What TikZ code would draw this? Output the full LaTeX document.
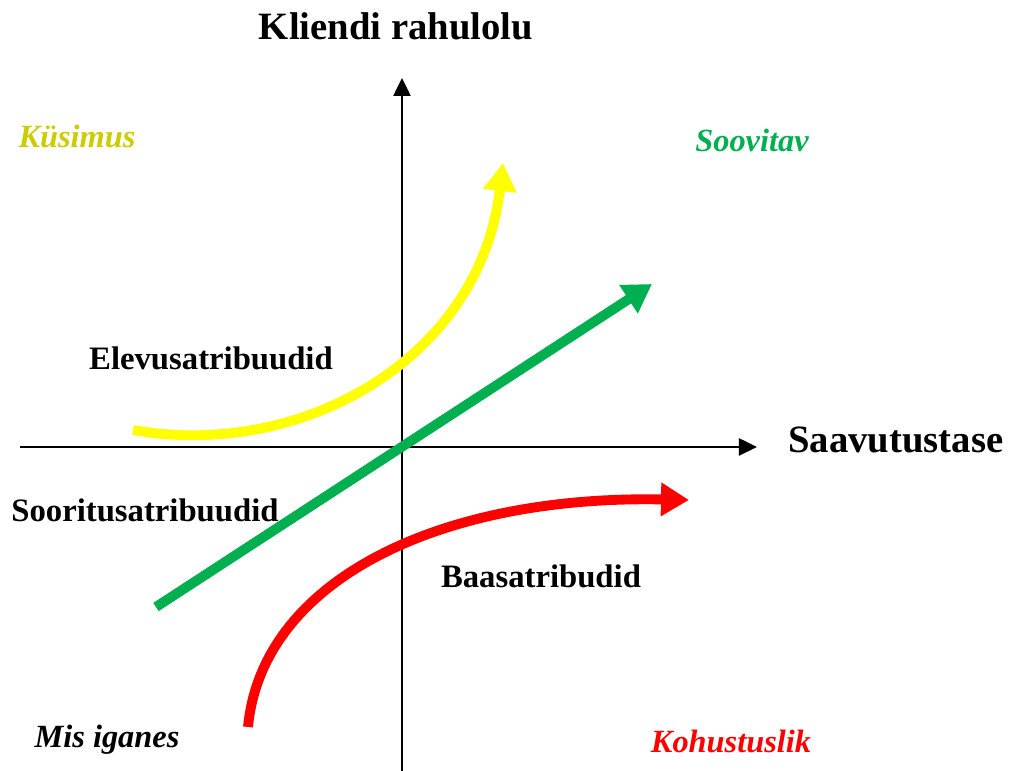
\documentclass[tikz,border=0pt]{standalone}
\usepackage{fontspec}
\setmainfont{Liberation Serif}
\usepackage{xcolor}
\usetikzlibrary{arrows.meta}
\definecolor{kyellow}{RGB}{255,255,0}
\definecolor{ktext}{RGB}{204,204,0}
\definecolor{kgreen}{RGB}{0,176,80}
\definecolor{kred}{RGB}{255,0,0}
\tikzset{
  axis/.style={line width=0.7pt,-{Triangle[length=0.18cm,width=0.17cm]}},
  curvearrow/.style={line width=2.8pt,-{Triangle[length=0.28cm,width=0.32cm]}},
  lbl/.style={font=\bfseries\fontsize{9.3}{11}\selectfont},
  corner/.style={font=\bfseries\itshape\fontsize{9.2}{11}\selectfont},
  axlbl/.style={font=\bfseries\fontsize{11}{13}\selectfont}
}

\begin{document}
\begin{tikzpicture}[x=0.01cm,y=-0.01cm]
\useasboundingbox (0,0) rectangle (1011,771);
% axes
\coordinate (xs) at (20,447);
\coordinate (xe) at (757,447);
\coordinate (ys) at (402,771);
\coordinate (ye) at (402,78);
\draw[axis] (xs) -- (xe);
\draw[axis] (ys) -- (ye);
% curves
\coordinate (y0) at (133,430);
\coordinate (y1) at (503,163);
\draw[curvearrow,kyellow] (y0) .. controls (300,460) and (480,360) .. (y1);
\coordinate (g0) at (156,607);
\coordinate (g1) at (652,284);
\draw[curvearrow,kgreen] (g0) -- (g1);
\coordinate (r0) at (248,727);
\coordinate (r1) at (689,500);
\draw[curvearrow,kred] (r0) .. controls (262,580) and (440,495) .. (r1);
% labels
\node[axlbl] (title) at (396,26) {Kliendi rahulolu};
\node[axlbl,anchor=west] (xlab) at (776,440) {Saavutustase};
\node[corner,text=ktext] (q) at (77,136) {Küsimus};
\node[corner,text=kgreen] (s) at (752,140) {Soovitav};
\node[corner] (m) at (107,740) {Mis iganes};
\node[corner,text=kred] (k) at (731,741) {Kohustuslik};
\node[lbl] (ele) at (211,358) {Elevusatribuudid};
\node[lbl] (soo) at (145,510) {Sooritusatribuudid};
\node[lbl] (baa) at (541,576) {Baasatribudid};
\end{tikzpicture}
\end{document}
